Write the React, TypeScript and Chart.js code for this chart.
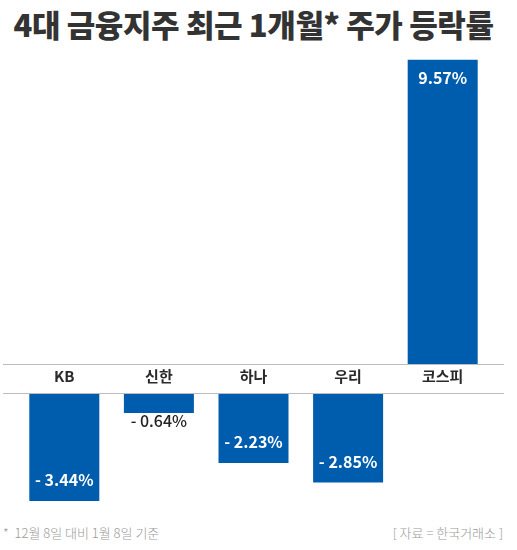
import React, { useEffect, useRef } from 'react';
import { Chart, registerables, Plugin } from 'chart.js';

Chart.register(...registerables);

const categories = ['KB', '신한', '하나', '우리', '코스피'];
const changes = [-3.44, -0.64, -2.23, -2.85, 9.57];

const positives = changes.map((v) => (v > 0 ? v : null));
const negatives = changes.map((v) => (v < 0 ? v : null));

const BLUE = '#005DAE';
const FONT = "'Noto Sans CJK KR', 'Noto Sans', sans-serif";

const formatChange = (v: number) => (v < 0 ? `- ${Math.abs(v).toFixed(2)}%` : `${v.toFixed(2)}%`);

// draws the % figures on (or just under) each bar
const valueLabels: Plugin<'bar'> = {
  id: 'valueLabels',
  afterDatasetsDraw(chart) {
    const { ctx } = chart;
    const meta = chart.getDatasetMeta(0);
    const data = chart.data.datasets[0].data as (number | null)[];
    ctx.save();
    ctx.textAlign = 'center';
    ctx.textBaseline = 'middle';
    meta.data.forEach((bar: any, i) => {
      const v = data[i];
      if (v == null) return;
      const len = Math.abs(bar.base - bar.y);
      if (len > 35) {
        ctx.fillStyle = '#ffffff';
        ctx.font = `bold 16px ${FONT}`;
        ctx.fillText(formatChange(v), bar.x, v < 0 ? bar.y - 21 : bar.y + 18);
      } else {
        ctx.fillStyle = '#222222';
        ctx.font = `500 16px ${FONT}`;
        ctx.fillText(formatChange(v), bar.x, v < 0 ? bar.y + 8 : bar.y - 8);
      }
    });
    ctx.restore();
  },
};

const useBarChart = (
  ref: React.RefObject<HTMLCanvasElement | null>,
  values: (number | null)[],
  yMin: number,
  yMax: number,
  showLabels: boolean,
) => {
  useEffect(() => {
    if (!ref.current) return;
    const chart = new Chart(ref.current, {
      type: 'bar',
      data: {
        labels: categories,
        datasets: [
          {
            data: values,
            backgroundColor: BLUE,
            borderWidth: 0,
            categoryPercentage: 1,
            barPercentage: 0.74,
          },
        ],
      },
      options: {
        animation: false,
        responsive: true,
        maintainAspectRatio: false,
        layout: { padding: { left: 17, right: 27, top: 0, bottom: 0 } },
        plugins: { legend: { display: false }, tooltip: { enabled: false } },
        scales: {
          x: {
            display: showLabels,
            position: 'top',
            grid: { display: false, drawTicks: false },
            border: { display: false },
            ticks: { color: '#2a2a2a', font: { family: FONT, size: 15, weight: 600 }, padding: 8 },
            afterFit: showLabels
              ? (scale: any) => {
                  scale.height = 29;
                }
              : undefined,
          },
          y: { display: false, min: yMin, max: yMax },
        },
      },
      plugins: [valueLabels],
    });
    return () => chart.destroy();
  }, [ref, values, yMin, yMax, showLabels]);
};

const App: React.FC = () => {
  const topRef = useRef<HTMLCanvasElement | null>(null);
  const bottomRef = useRef<HTMLCanvasElement | null>(null);

  useBarChart(topRef, positives, 0, 10, false);
  useBarChart(bottomRef, negatives, -3.5, 0, true);

  const line = { position: 'absolute' as const, left: 3, width: 501, height: 0, borderTop: '1px solid #bdbdbd' };
  const note = { position: 'absolute' as const, top: 523, fontSize: 13, color: '#9a9a9a', fontWeight: 300 };

  return (
    <div style={{ position: 'absolute', top: 0, left: 0, width: 517, height: 550, background: '#fff', fontFamily: FONT }}>
      <div
        style={{
          position: 'absolute',
          top: 4,
          left: 0,
          width: 507,
          textAlign: 'center',
          fontSize: 31,
          fontWeight: 900,
          color: '#333',
          letterSpacing: -0.4,
          lineHeight: '40px',
        }}
      >
        4대 금융지주 최근 1개월* 주가 등락률
      </div>
      <div style={{ position: 'absolute', top: 46, left: 0, width: 517, height: 318 }}>
        <canvas ref={topRef} />
      </div>
      <div style={{ position: 'absolute', top: 364, left: 0, width: 517, height: 139 }}>
        <canvas ref={bottomRef} />
      </div>
      <div style={{ ...line, top: 364 }} />
      <div style={{ ...line, top: 393 }} />
      <div style={{ ...note, left: 3 }}>*&nbsp; 12월 8일 대비 1월 8일 기준</div>
      <div style={{ ...note, right: 14 }}>[ 자료 = 한국거래소 ]</div>
    </div>
  );
};

export default App;
